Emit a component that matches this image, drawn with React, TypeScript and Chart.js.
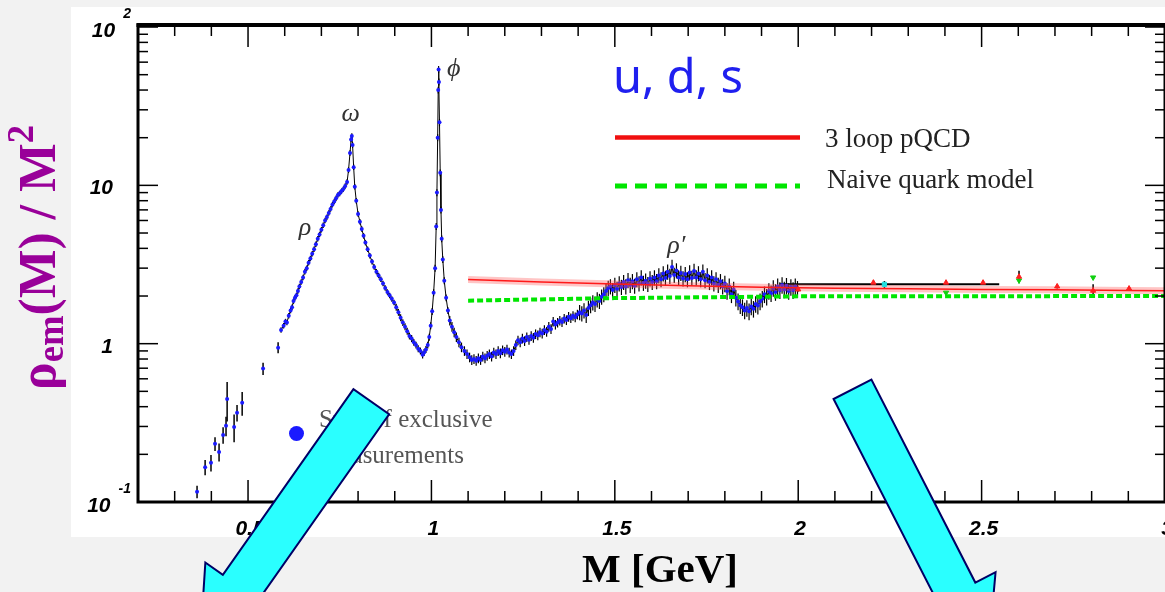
import React, { useEffect, useRef } from "react";
import { Chart, registerables } from "chart.js";
Chart.register(...registerables);

// ---- data (M in GeV, rho_em/M^2) ----
const massLow = [0.361, 0.383, 0.399, 0.41, 0.421, 0.432, 0.44, 0.443, 0.462, 0.47, 0.484, 0.541, 0.582];
const rhoLow = [0.116, 0.166, 0.177, 0.233, 0.207, 0.265, 0.303, 0.448, 0.298, 0.366, 0.423, 0.696, 0.944];
const errLow = [0.09, 0.11, 0.12, 0.1, 0.13, 0.12, 0.14, 0.28, 0.2, 0.12, 0.17, 0.09, 0.08];

const massDense = [
  0.59, 0.597, 0.602, 0.606, 0.611, 0.616, 0.62, 0.624, 0.628, 0.632, 0.636, 0.64, 0.645, 0.65, 0.655, 0.66,
  0.665, 0.67, 0.675, 0.68, 0.685, 0.69, 0.695, 0.7, 0.705, 0.71, 0.715, 0.72, 0.725, 0.73, 0.735, 0.74,
  0.745, 0.75, 0.755, 0.76, 0.765, 0.77, 0.774, 0.778, 0.781, 0.783, 0.785, 0.788, 0.791, 0.795, 0.8, 0.805,
  0.81, 0.815, 0.82, 0.826, 0.832, 0.838, 0.844, 0.85, 0.856, 0.862, 0.868, 0.874, 0.88, 0.886, 0.892, 0.898,
  0.904, 0.91, 0.916, 0.922, 0.928, 0.934, 0.94, 0.946, 0.952, 0.958, 0.964, 0.97, 0.976, 0.98, 0.985, 0.99,
  0.994, 0.998, 1.002, 1.006, 1.01, 1.013, 1.015, 1.017, 1.0185, 1.0195, 1.0205, 1.022, 1.024, 1.026, 1.028, 1.031,
  1.035, 1.04, 1.045, 1.05, 1.056, 1.062, 1.068, 1.075, 1.082, 1.09, 1.097, 1.104, 1.11, 1.116, 1.122, 1.128,
  1.134, 1.14, 1.146, 1.152, 1.158, 1.164, 1.17, 1.176, 1.182, 1.188, 1.194, 1.2, 1.206, 1.212, 1.218, 1.224,
  1.23, 1.236, 1.242, 1.248, 1.254, 1.26, 1.266, 1.272, 1.278, 1.284, 1.29, 1.296, 1.302, 1.308, 1.314, 1.32,
  1.326, 1.332, 1.338, 1.344, 1.35, 1.356, 1.362, 1.368, 1.374, 1.38, 1.386, 1.392, 1.398, 1.404, 1.41, 1.416,
  1.422, 1.428, 1.434, 1.44, 1.446, 1.452, 1.458, 1.464, 1.47, 1.476, 1.482, 1.488, 1.494, 1.5, 1.506, 1.512,
  1.518, 1.524, 1.53, 1.536, 1.542, 1.548, 1.554, 1.56, 1.566, 1.572, 1.578, 1.584, 1.59, 1.596, 1.602, 1.608,
  1.614, 1.62, 1.626, 1.632, 1.638, 1.644, 1.65, 1.656, 1.662, 1.668, 1.674, 1.68, 1.686, 1.692, 1.698, 1.704,
  1.71, 1.716, 1.722, 1.728, 1.734, 1.74, 1.746, 1.752, 1.758, 1.764, 1.77, 1.776, 1.782, 1.788, 1.794, 1.8,
  1.806, 1.812, 1.818, 1.824, 1.83, 1.836, 1.842, 1.848, 1.854, 1.86, 1.866, 1.872, 1.878, 1.884, 1.89, 1.896,
  1.902, 1.908, 1.914, 1.92, 1.926, 1.932, 1.938, 1.944, 1.95, 1.956, 1.962, 1.968, 1.974, 1.98, 1.986, 1.992, 1.998,
];
const rhoDense = [
  1.22, 1.3, 1.38, 1.36, 1.5, 1.62, 1.7, 1.86, 1.95, 2.02, 2.15, 2.3, 2.45, 2.62, 2.85, 3.0,
  3.25, 3.45, 3.7, 3.95, 4.25, 4.6, 4.9, 5.25, 5.6, 6.0, 6.3, 6.7, 7.1, 7.55, 7.9, 8.3,
  8.7, 8.9, 9.2, 9.5, 9.9, 10.5, 12.5, 16.0, 19.5, 20.5, 18.0, 13.0, 9.8, 8.0, 6.6, 5.9,
  5.3, 4.8, 4.35, 3.95, 3.6, 3.3, 3.05, 2.85, 2.7, 2.55, 2.4, 2.25, 2.12, 2.02, 1.92, 1.82,
  1.7, 1.58, 1.46, 1.36, 1.28, 1.2, 1.12, 1.08, 1.02, 0.98, 0.93, 0.9, 0.85, 0.88, 0.92, 0.98,
  1.1, 1.3, 1.6, 2.1, 3.0, 5.5, 9.0, 20.0, 40.0, 54.0, 45.0, 25.0, 12.0, 7.0, 4.6, 3.4,
  2.5, 1.95, 1.62, 1.4, 1.28, 1.18, 1.1, 1.02, 0.95, 0.9, 0.86, 0.82, 0.79, 0.8, 0.78, 0.81,
  0.79, 0.83, 0.81, 0.84, 0.86, 0.83, 0.88, 0.86, 0.9, 0.87, 0.91, 0.89, 0.92, 0.88, 0.86, 0.9,
  0.98, 1.05, 1.02, 1.08, 1.04, 1.1, 1.06, 1.12, 1.09, 1.15, 1.13, 1.18, 1.16, 1.22, 1.19, 1.28,
  1.24, 1.38, 1.32, 1.36, 1.4, 1.37, 1.44, 1.41, 1.48, 1.45, 1.5, 1.47, 1.53, 1.58, 1.55, 1.62,
  1.52, 1.68, 1.75, 1.82, 1.78, 1.9, 1.86, 1.98, 2.05, 2.15, 2.25, 2.3, 2.18, 2.35, 2.22, 2.4,
  2.28, 2.45, 2.3, 2.52, 2.35, 2.48, 2.32, 2.55, 2.4, 2.62, 2.42, 2.5, 2.38, 2.58, 2.45, 2.62,
  2.48, 2.7, 2.55, 2.78, 2.6, 2.85, 2.68, 3.05, 2.72, 2.9, 2.62, 2.8, 2.58, 2.75, 2.55, 2.82,
  2.6, 2.88, 2.62, 2.78, 2.55, 2.85, 2.52, 2.7, 2.45, 2.62, 2.4, 2.55, 2.35, 2.48, 2.3, 2.4,
  2.15, 2.3, 2.05, 2.2, 1.95, 1.85, 1.75, 1.7, 1.62, 1.68, 1.6, 1.72, 1.66, 1.78, 1.74, 1.85,
  1.92, 2.05, 1.98, 2.15, 2.08, 2.25, 2.12, 2.3, 2.18, 2.35, 2.2, 2.32, 2.15, 2.28, 2.18, 2.3, 2.22,
];
// typical relative error bar size of the dense data, per mass range
const denseErrFrom = [0.58, 0.9, 1.05, 1.4, 1.8];
const denseErrFrac = [0.04, 0.05, 0.07, 0.11, 0.12];

const pqcdMass = [1.1, 1.3, 1.5, 1.7, 1.9, 2.1, 2.3, 2.5, 2.7, 2.9, 3.0];
const pqcdRho = [2.54, 2.45, 2.38, 2.32, 2.27, 2.24, 2.22, 2.2, 2.19, 2.17, 2.16];
const naiveMass = [1.1, 1.5, 2.0, 3.0];
const naiveRho = [1.87, 1.94, 1.99, 2.0];

const redMass = [2.0, 2.205, 2.403, 2.504, 2.602, 2.706, 2.804, 2.902];
const redRho = [2.2, 2.43, 2.43, 2.43, 2.65, 2.3, 2.16, 2.23];
const redErr = [0.03, 0.03, 0.03, 0.03, 0.09, 0.03, 0.1, 0.03];
const greenMass = [2.403, 2.602, 2.804];
const greenRho = [2.1, 2.51, 2.62];
const cyanMass = [2.235];
const cyanRho = [2.37];
const cyanMassLo = [1.949];
const cyanMassHi = [2.548];
const cyanErr = [0.05];

const xTickValues = [0.5, 1, 1.5, 2, 2.5, 3];
const xTickLabels = ["0.5", "1", "1.5", "2", "2.5", "3"];
const yTickValues = [0.1, 1, 10, 100];
const yTickBase = ["10", "1", "10", "10"];
const yTickExp = ["-1", "", "", "2"];

const peakLabels = ["ω", "ρ", "ϕ", "ρ′"];
const peakMass = [0.78, 0.655, 1.061, 1.668];
const peakRho = [28.1, 5.35, 54.2, 4.11];

const arrowTailMass = [0.836, 2.148];
const arrowTailRho = [0.43, 0.515];
const arrowTipMass = [0.369, 2.518];
const arrowTipRho = [0.01245, 0.0109];

const pts = (xs: number[], ys: number[]) => xs.map((x, i) => ({ x, y: ys[i] }));

const errFor = (m: number) => {
  let e = denseErrFrac[0];
  denseErrFrom.forEach((from, i) => {
    if (m >= from) e = denseErrFrac[i];
  });
  return e;
};

const decoPlugin = {
  id: "deco",
  beforeDraw(chart: any) {
    const ctx = chart.ctx;
    ctx.save();
    ctx.fillStyle = "#f2f2f2";
    ctx.fillRect(0, 0, chart.width, chart.height);
    ctx.fillStyle = "#ffffff";
    ctx.fillRect(71, 7, chart.width - 71, 530);
    ctx.restore();
  },
  beforeDatasetsDraw(chart: any) {
    const ctx = chart.ctx;
    const xs = chart.scales.x, ys = chart.scales.y, ca = chart.chartArea;
    ctx.save();
    ctx.beginPath();
    ctx.rect(ca.left, ca.top, ca.right - ca.left, ca.bottom - ca.top);
    ctx.clip();
    ctx.strokeStyle = "#000";
    const vbar = (m: number, r: number, e: number) => {
      const px = xs.getPixelForValue(m);
      ctx.beginPath();
      ctx.moveTo(px, ys.getPixelForValue(r * (1 - e)));
      ctx.lineTo(px, ys.getPixelForValue(r * (1 + e)));
      ctx.stroke();
    };
    ctx.lineWidth = 1.2;
    massDense.forEach((m, i) => vbar(m, rhoDense[i], errFor(m)));
    ctx.lineWidth = 1.5;
    massLow.forEach((m, i) => vbar(m, rhoLow[i], errLow[i]));
    redMass.forEach((m, i) => vbar(m, redRho[i], redErr[i]));
    cyanMass.forEach((m, i) => {
      vbar(m, cyanRho[i], cyanErr[i]);
      const py = ys.getPixelForValue(cyanRho[i]);
      ctx.lineWidth = 2;
      ctx.beginPath();
      ctx.moveTo(xs.getPixelForValue(cyanMassLo[i]), py);
      ctx.lineTo(xs.getPixelForValue(cyanMassHi[i]), py);
      ctx.stroke();
    });
    ctx.restore();
  },
  afterDraw(chart: any) {
    const ctx = chart.ctx;
    const xs = chart.scales.x, ys = chart.scales.y, ca = chart.chartArea;
    ctx.save();
    // ticks
    ctx.strokeStyle = "#000";
    ctx.lineWidth = 1.5;
    const line = (a: number, b: number, c: number, d: number) => {
      ctx.beginPath();
      ctx.moveTo(a, b);
      ctx.lineTo(c, d);
      ctx.stroke();
    };
    for (let i = 3; i <= 30; i++) {
      const px = xs.getPixelForValue(i / 10);
      const len = i % 5 === 0 ? 22 : 11;
      line(px, ca.bottom, px, ca.bottom - len);
      line(px, ca.top, px, ca.top + len);
    }
    for (let d = -1; d <= 2; d++) {
      for (let m = 1; m <= 9; m++) {
        const v = m * Math.pow(10, d);
        if (v > ys.max || v < ys.min) continue;
        const py = ys.getPixelForValue(v);
        const len = m === 1 ? 20 : 10;
        line(ca.left, py, ca.left + len, py);
        line(ca.right, py, ca.right - len, py);
      }
    }
    // frame
    ctx.lineWidth = 3;
    ctx.strokeRect(ca.left, ca.top, ca.right - ca.left, ca.bottom - ca.top);
    ctx.lineWidth = 4;
    line(ca.left - 1.5, ca.top, ca.right, ca.top);

    // tick labels
    ctx.fillStyle = "#000";
    ctx.font = "bold italic 21px 'Liberation Sans', Arial, sans-serif";
    ctx.textAlign = "center";
    ctx.textBaseline = "alphabetic";
    xTickValues.forEach((v, i) => {
      ctx.fillText(xTickLabels[i], xs.getPixelForValue(v) + 2, 535);
    });
    yTickValues.forEach((v, i) => {
      const py = ys.getPixelForValue(v);
      ctx.textAlign = "left";
      if (yTickExp[i]) {
        ctx.font = "bold italic 21px 'Liberation Sans', Arial, sans-serif";
        const wb = ctx.measureText(yTickBase[i]).width;
        ctx.font = "bold italic 14px 'Liberation Sans', Arial, sans-serif";
        const we = ctx.measureText(yTickExp[i]).width;
        const x0 = 131 - we - 8 - wb;
        ctx.font = "bold italic 21px 'Liberation Sans', Arial, sans-serif";
        ctx.fillText(yTickBase[i], x0, py + 10);
        ctx.font = "bold italic 14px 'Liberation Sans', Arial, sans-serif";
        ctx.fillText(yTickExp[i], x0 + wb + 8, py - 9);
      } else {
        ctx.font = "bold italic 21px 'Liberation Sans', Arial, sans-serif";
        ctx.textAlign = "right";
        ctx.fillText(yTickBase[i], 113, py + 9);
      }
    });

    // x title
    ctx.textAlign = "center";
    ctx.font = "bold 41px 'Liberation Serif', 'Times New Roman', serif";
    ctx.fillStyle = "#000";
    ctx.fillText("M [GeV]", 660, 582);

    // y title (rotated)
    ctx.save();
    ctx.translate(55, 390);
    ctx.rotate(-Math.PI / 2);
    ctx.fillStyle = "#990099";
    ctx.textAlign = "left";
    const parts = [
      { t: "ρ", s: 52, dy: 0 },
      { t: "em", s: 37, dy: 8 },
      { t: "(M) / M", s: 52, dy: 0 },
      { t: "2", s: 37, dy: -22 },
    ];
    let W = 0;
    const widths = parts.map((p) => {
      ctx.font = `bold ${p.s}px 'Liberation Serif', 'Times New Roman', serif`;
      const w = ctx.measureText(p.t).width;
      W += w;
      return w;
    });
    ctx.scale(265 / W, 1);
    let cx = 0;
    parts.forEach((p, i) => {
      ctx.font = `bold ${p.s}px 'Liberation Serif', 'Times New Roman', serif`;
      ctx.fillText(p.t, cx, p.dy);
      cx += widths[i];
    });
    ctx.restore();

    // legend block
    ctx.textAlign = "left";
    ctx.fillStyle = "#1f1fef";
    ctx.font = "47px 'Noto Sans', 'DejaVu Sans', sans-serif";
    ctx.fillText("u, d, s", 613, 93);

    ctx.strokeStyle = "#f01010";
    ctx.lineWidth = 4.5;
    line(615, 137.5, 800, 137.5);
    ctx.strokeStyle = "#00e600";
    ctx.lineWidth = 5;
    ctx.setLineDash([12, 8]);
    line(615, 186, 800, 186);
    ctx.setLineDash([]);

    ctx.fillStyle = "#222";
    ctx.font = "27px 'Liberation Serif', 'Times New Roman', serif";
    ctx.fillText("3 loop pQCD", 825, 147);
    ctx.fillText("Naive quark model", 827, 188);

    ctx.fillStyle = "#1a1aff";
    ctx.beginPath();
    ctx.arc(296.5, 433.5, 7.5, 0, Math.PI * 2);
    ctx.fill();
    ctx.fillStyle = "#555";
    ctx.font = "25px 'Liberation Serif', 'Times New Roman', serif";
    ctx.fillText("Sum of exclusive", 319, 427);
    ctx.fillText("measurements", 321, 463);

    // peak labels
    ctx.fillStyle = "#333";
    ctx.textAlign = "center";
    ctx.textBaseline = "middle";
    ctx.font = "italic 26px 'Liberation Serif', 'DejaVu Serif', serif";
    peakLabels.forEach((t, i) => {
      ctx.fillText(t, xs.getPixelForValue(peakMass[i]), ys.getPixelForValue(peakRho[i]));
    });
    ctx.textBaseline = "alphabetic";

    // arrows
    const shaftW = [43.6, 42.5];
    const headW = [86.4, 88];
    const shaftL = [227, 228];
    arrowTailMass.forEach((_, i) => {
      const tx = xs.getPixelForValue(arrowTailMass[i]);
      const ty = ys.getPixelForValue(arrowTailRho[i]);
      const hx = xs.getPixelForValue(arrowTipMass[i]);
      const hy = ys.getPixelForValue(arrowTipRho[i]);
      const dx = hx - tx, dy = hy - ty;
      const L = Math.hypot(dx, dy);
      const ux = dx / L, uy = dy / L;
      const px = -uy, py = ux;
      const sw = shaftW[i] / 2, hw = headW[i] / 2;
      const bx = tx + ux * shaftL[i], by = ty + uy * shaftL[i];
      const poly = [
        [tx + px * sw, ty + py * sw],
        [bx + px * sw, by + py * sw],
        [bx + px * hw, by + py * hw],
        [hx, hy],
        [bx - px * hw, by - py * hw],
        [bx - px * sw, by - py * sw],
        [tx - px * sw, ty - py * sw],
      ];
      ctx.beginPath();
      poly.forEach((p, k) => (k === 0 ? ctx.moveTo(p[0], p[1]) : ctx.lineTo(p[0], p[1])));
      ctx.closePath();
      ctx.fillStyle = "#2affff";
      ctx.fill();
      ctx.strokeStyle = "#000066";
      ctx.lineWidth = 2;
      ctx.lineJoin = "miter";
      ctx.stroke();
    });
    ctx.restore();
  },
};

export default function App() {
  const ref = useRef<HTMLCanvasElement | null>(null);
  useEffect(() => {
    if (!ref.current) return;
    const chart = new Chart(ref.current, {
      type: "scatter",
      data: {
        datasets: [
          {
            label: "3 loop pQCD",
            data: pts(pqcdMass, pqcdRho),
            showLine: true,
            borderColor: "#ff1a1a",
            borderWidth: 1.5,
            pointRadius: 0,
            order: 1,
          },
          {
            label: "pQCD band",
            data: pts(pqcdMass, pqcdRho),
            showLine: true,
            borderColor: "rgba(255,90,90,0.35)",
            borderWidth: 7,
            pointRadius: 0,
            order: 2,
          },
          {
            label: "Naive quark model",
            data: pts(naiveMass, naiveRho),
            showLine: true,
            borderColor: "#00e600",
            borderWidth: 4,
            borderDash: [6, 3],
            pointRadius: 0,
            order: 1,
          },
          {
            label: "red",
            data: pts(redMass, redRho),
            pointStyle: "triangle",
            pointRadius: 3,
            backgroundColor: "#ff2020",
            borderColor: "#ff2020",
            order: 0,
          },
          {
            label: "green",
            data: pts(greenMass, greenRho),
            pointStyle: "triangle",
            rotation: 180,
            pointRadius: 3,
            backgroundColor: "#10d010",
            borderColor: "#10d010",
            order: 0,
          },
          {
            label: "cyan",
            data: pts(cyanMass, cyanRho),
            pointStyle: "rect",
            pointRadius: 3,
            backgroundColor: "#20e0e0",
            borderColor: "#20e0e0",
            order: 0,
          },
          {
            label: "Sum of exclusive measurements",
            data: pts(massDense, rhoDense),
            showLine: true,
            borderColor: "#000",
            borderWidth: 1,
            pointRadius: 2,
            pointBorderWidth: 0,
            pointBackgroundColor: "#1a1aff",
            order: 3,
          },
          {
            label: "low",
            data: pts(massLow, rhoLow),
            pointRadius: 2,
            pointBorderWidth: 0,
            pointBackgroundColor: "#1a1aff",
            order: 3,
          },
        ],
      },
      options: {
        responsive: false,
        animation: false,
        devicePixelRatio: 1,
        layout: { padding: { left: 138, top: 25, right: 4, bottom: 90 } },
        plugins: { legend: { display: false }, tooltip: { enabled: false } },
        scales: {
          x: { type: "linear", min: 0.2, max: 3.0, display: false },
          y: { type: "logarithmic", min: 0.1, max: 103, display: false },
        },
      },
      plugins: [decoPlugin],
    });
    return () => chart.destroy();
  }, []);
  return (
    <div
      style={{
        position: "fixed",
        left: 0,
        top: 0,
        width: 1165,
        height: 592,
        overflow: "hidden",
        background: "#f2f2f2",
      }}
    >
      <canvas ref={ref} width={1170} height={592} style={{ width: 1170, height: 592, display: "block" }} />
    </div>
  );
}
